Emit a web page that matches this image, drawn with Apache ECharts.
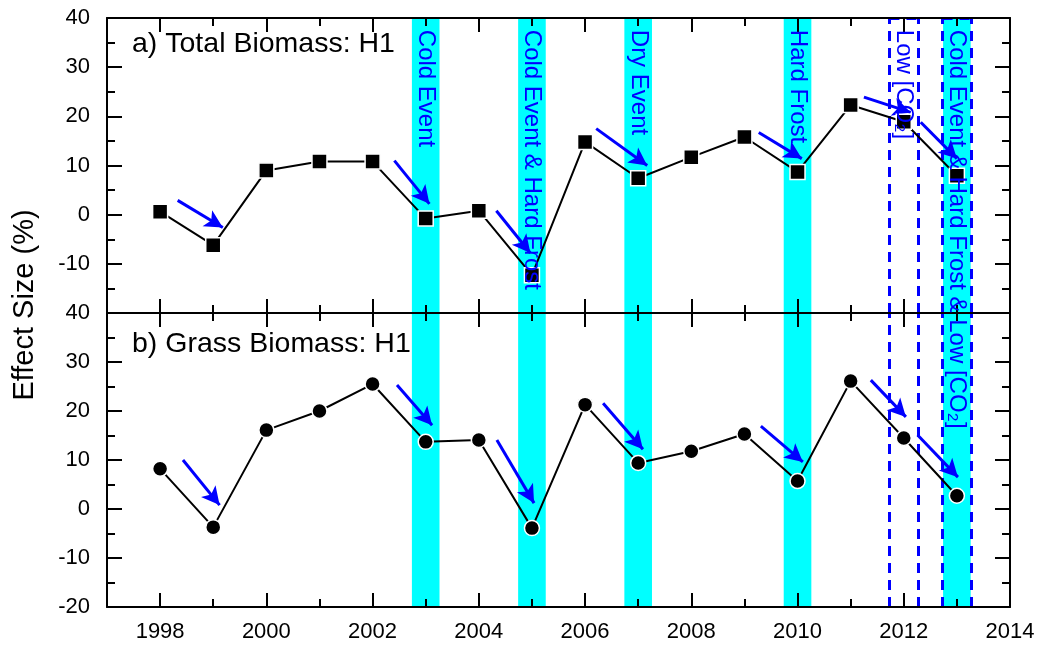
<!DOCTYPE html>
<html>
<head>
<meta charset="utf-8">
<script src="https://cdn.jsdelivr.net/npm/echarts@6/dist/echarts.min.js"></script>
<style>html,body{margin:0;padding:0;background:#fff}#c{width:1042px;height:650px}</style>
</head>
<body>
<div id="c"></div>
<script>
// ---- data ----
const years = [1998,1999,2000,2001,2002,2003,2004,2005,2006,2007,2008,2009,2010,2011,2012,2013];
const totalH1 = [0.6,-6.2,9.0,10.8,10.8,-0.8,0.8,-12.3,14.8,7.4,11.7,15.8,8.7,22.3,18.9,7.9];
const grassH1 = [8.2,-3.7,16.1,20.0,25.5,13.7,14.1,-3.9,21.3,9.4,11.8,15.3,5.7,26.1,14.5,2.7];
const xMajorTicks = [1998,2000,2002,2004,2006,2008,2010,2012,2014];
const xMinorTicks = [1997,1999,2001,2003,2005,2007,2009,2011,2013];
// event bands (cyan) [from, to]
const eventBands = [[2002.74,2003.26],[2004.74,2005.26],[2006.74,2007.26],[2009.74,2010.26],[2012.74,2013.26]];
// dashed boxes (low CO2)
const co2Boxes = [[2011.73,2012.27],[2012.73,2013.27]];
// annotation texts: [year, text]
const eventLabels = [
  [2003, 'Cold Event'],
  [2005, 'Cold Event & Hard Frost'],
  [2007, 'Dry Event'],
  [2010, 'Hard Frost'],
  [2012, 'Low [CO\u2082]'],
  [2013, 'Cold Event & Hard Frost & Low [CO\u2082]']
];
// arrows [x1,y1,x2,y2] in data units
const arrowsTop = [
  [1998.33,2.9,1999.18,-2.6],
  [2002.41,11.0,2003.07,2.2],
  [2004.33,0.8,2004.97,-7.8],
  [2006.21,17.5,2007.17,10.0],
  [2009.27,16.7,2010.08,11.4],
  [2011.25,23.9,2012.13,20.8],
  [2012.32,18.8,2013.0,11.4]
];
const arrowsBottom = [
  [1998.43,10.0,1999.12,0.8],
  [2002.46,25.3,2003.12,17.1],
  [2004.34,14.1,2005.04,1.2],
  [2006.34,21.6,2007.09,12.2],
  [2009.31,16.9,2010.10,9.6],
  [2011.38,26.3,2012.04,18.8],
  [2012.26,15.1,2013.02,6.5]
];
const yTickMin = -20, yTickMax = 40, yStep = 10;

// ---- chart ----
const FONT = 'Liberation Sans, Arial, sans-serif';
const chart = echarts.init(document.getElementById('c'), null, {renderer:'canvas'});

function xAx(grid, pos, minor, labels) {
  return {
    type:'value', gridIndex:grid, position:pos, min:1997, max:2014, z:10,
    axisLine:{show:!minor, onZero:false, lineStyle:{color:'#000', width:2}},
    axisTick:{show:true, inside:true, length: minor?8:14, lineStyle:{color:'#000', width:2},
      customValues: minor ? xMinorTicks : xMajorTicks},
    axisLabel:{show:!!labels, customValues: xMajorTicks, color:'#000', fontSize:22, fontFamily:FONT, margin:14,
      formatter: v => String(v)},
    splitLine:{show:false}
  };
}
function yAx(grid, pos, labels, hideMin) {
  return {
    type:'value', gridIndex:grid, position:pos, min:yTickMin, max:yTickMax, interval:yStep, z:10,
    axisLine:{show:true, onZero:false, lineStyle:{color:'#000', width:2}},
    axisTick:{show:true, inside:true, length:15, lineStyle:{color:'#000', width:2}},
    minorTick:{show:true, splitNumber:2, length:8, lineStyle:{color:'#000', width:2}},
    axisLabel:{show:labels, color:'#000', fontSize:22, fontFamily:FONT, margin:17,
      formatter: v => (hideMin && v === yTickMin) ? '' : String(v)},
    splitLine:{show:false}
  };
}

function bandSeries(xi, yi) {
  return {
    type:'line', xAxisIndex:xi, yAxisIndex:yi, data:[], z:1, silent:true,
    markArea:{silent:true, itemStyle:{color:'#00FFFF'}, data: eventBands.map(b => [{xAxis:b[0]},{xAxis:b[1]}])}
  };
}
function boxSeries(xi, yi, edgeY) {
  const lines = [];
  co2Boxes.forEach(b => { lines.push({xAxis:b[0]}); lines.push({xAxis:b[1]}); });
  if (edgeY !== null) co2Boxes.forEach(b => lines.push([{coord:[b[0],edgeY]},{coord:[b[1],edgeY]}]));
  return {
    type:'line', xAxisIndex:xi, yAxisIndex:yi, data:[], z:20, silent:true,
    markLine:{silent:true, symbol:['none','none'], label:{show:false},
      lineStyle:{color:'#0000FF', width:3, type:[10,7]}, data: lines}
  };
}
function arrowSeries(xi, yi, arr) {
  return {
    type:'line', xAxisIndex:xi, yAxisIndex:yi, data:[], z:25, silent:true,
    markLine:{silent:true, symbol:['none','arrow'], symbolSize:[14,18], label:{show:false},
      lineStyle:{color:'#0000FF', width:3, type:'solid'},
      emphasis:{disabled:true},
      data: arr.map(a => [{coord:[a[0],a[1]]},{coord:[a[2],a[3]]}])}
  };
}
function dataSeries(xi, yi, vals, sym) {
  return {
    type:'line', xAxisIndex:xi, yAxisIndex:yi, z:5,
    data: years.map((y,i) => [y, vals[i]]),
    symbol:sym, symbolSize:15, showAllSymbol:true,
    lineStyle:{color:'#000', width:2},
    itemStyle:{color:'#000', borderColor:'#fff', borderWidth:1.5}
  };
}

const option = {
  animation:false,
  backgroundColor:'#fff',
  title:[
    {text:'a) Total Biomass: H1', left:127, top:25, textStyle:{fontSize:28.5, fontWeight:'normal', color:'#000', fontFamily:FONT}},
    {text:'b) Grass Biomass: H1', left:127, top:325, textStyle:{fontSize:28.5, fontWeight:'normal', color:'#000', fontFamily:FONT}}
  ],
  grid:[
    {left:107, top:18, width:903, height:295},
    {left:107, top:313, width:903, height:294}
  ],
  xAxis:[
    xAx(0,'bottom',false,false), xAx(0,'bottom',true,false), xAx(0,'top',false,false), xAx(0,'top',true,false),
    xAx(1,'bottom',false,true),  xAx(1,'bottom',true,false), xAx(1,'top',false,false), xAx(1,'top',true,false)
  ],
  yAxis:[
    yAx(0,'left',true,true), yAx(0,'right',false,false),
    yAx(1,'left',true,false), yAx(1,'right',false,false)
  ],
  series:[
    bandSeries(0,0), bandSeries(4,2),
    boxSeries(0,0,yTickMax), boxSeries(4,2,null),
    dataSeries(0,0,totalH1,'rect'), dataSeries(4,2,grassH1,'circle'),
    arrowSeries(0,0,arrowsTop), arrowSeries(4,2,arrowsBottom)
  ]
};
chart.setOption(option);

const graphics = [{
  type:'text', x:25, y:305, rotation:Math.PI/2, z:50,
  style:{text:'Effect Size (%)', fill:'#000', font:'29px ' + FONT, align:'center', verticalAlign:'middle'}
}];
eventLabels.forEach(e => {
  const p = chart.convertToPixel({xAxisIndex:0, yAxisIndex:0}, [e[0], 37.6]);
  graphics.push({
    type:'text', x:p[0], y:p[1], rotation:-Math.PI/2, z:50,
    style:{text:e[1], fill:'#0000FF', font:'24px ' + FONT, align:'left', verticalAlign:'middle'}
  });
});
chart.setOption({graphic:graphics});
</script>
</body>
</html>
